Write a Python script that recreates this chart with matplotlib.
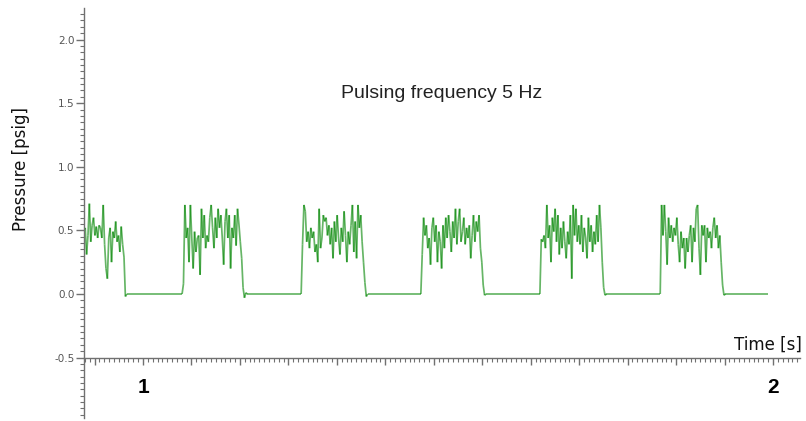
import numpy as np
import matplotlib
matplotlib.use("Agg")
import matplotlib.pyplot as plt
from matplotlib.collections import LineCollection
from matplotlib.ticker import MultipleLocator, FormatStrFormatter, NullFormatter
from matplotlib.transforms import blended_transform_factory

# pressure trace, sampled every DT seconds inside each pulse
DT = 0.0022
PULSE_START = [0.906, 1.062, 1.251, 1.441, 1.630, 1.821]
TRACE_END = 1.992

PULSE_1 = [0.49, 0.52, 0.31, 0.46, 0.71, 0.41, 0.54, 0.60, 0.46, 0.53,
           0.44, 0.54, 0.52, 0.44, 0.70, 0.39, 0.20, 0.12, 0.44, 0.52,
           0.25, 0.49, 0.44, 0.57, 0.41, 0.46, 0.33, 0.53, 0.39, 0.29,
           -0.02, 0.0]
PULSE_2 = [0.0, 0.08, 0.70, 0.44, 0.52, 0.25, 0.70, 0.44, 0.20, 0.49,
           0.33, 0.44, 0.46, 0.15, 0.67, 0.44, 0.62, 0.36, 0.46, 0.41,
           0.60, 0.70, 0.52, 0.36, 0.60, 0.44, 0.67, 0.52, 0.62, 0.44,
           0.23, 0.57, 0.67, 0.44, 0.62, 0.20, 0.52, 0.44, 0.62, 0.38,
           0.67, 0.55, 0.41, 0.28, 0.05, -0.03, 0.01, 0.0]
PULSE_3 = [0.0, 0.39, 0.70, 0.65, 0.41, 0.49, 0.36, 0.52, 0.44, 0.49,
           0.33, 0.39, 0.25, 0.67, 0.36, 0.44, 0.62, 0.57, 0.60, 0.46,
           0.54, 0.39, 0.52, 0.28, 0.57, 0.41, 0.62, 0.44, 0.31, 0.52,
           0.41, 0.65, 0.46, 0.25, 0.49, 0.39, 0.54, 0.70, 0.33, 0.57,
           0.28, 0.70, 0.52, 0.62, 0.41, 0.25, 0.09, -0.02, 0.0]
PULSE_4 = [0.0, 0.31, 0.60, 0.46, 0.54, 0.36, 0.44, 0.23, 0.52, 0.60,
           0.41, 0.54, 0.25, 0.49, 0.41, 0.20, 0.54, 0.36, 0.60, 0.44,
           0.62, 0.49, 0.33, 0.57, 0.44, 0.67, 0.39, 0.57, 0.67, 0.41,
           0.49, 0.60, 0.39, 0.52, 0.44, 0.54, 0.28, 0.46, 0.62, 0.41,
           0.57, 0.49, 0.62, 0.36, 0.25, 0.07, -0.01, 0.0]
PULSE_5 = [0.0, 0.43, 0.41, 0.46, 0.36, 0.70, 0.44, 0.54, 0.25, 0.60,
           0.49, 0.67, 0.41, 0.62, 0.31, 0.52, 0.36, 0.57, 0.41, 0.28,
           0.49, 0.39, 0.62, 0.12, 0.70, 0.46, 0.67, 0.41, 0.54, 0.39,
           0.62, 0.33, 0.52, 0.44, 0.28, 0.60, 0.41, 0.54, 0.33, 0.49,
           0.39, 0.62, 0.41, 0.70, 0.52, 0.25, 0.05, -0.01, 0.0]
PULSE_6 = [0.0, 0.70, 0.46, 0.70, 0.49, 0.23, 0.60, 0.44, 0.54, 0.41,
           0.52, 0.46, 0.60, 0.39, 0.25, 0.49, 0.36, 0.44, 0.20, 0.44,
           0.33, 0.46, 0.54, 0.25, 0.52, 0.41, 0.67, 0.70, 0.36, 0.15,
           0.54, 0.46, 0.54, 0.25, 0.52, 0.44, 0.49, 0.36, 0.52, 0.60,
           0.44, 0.54, 0.36, 0.46, 0.25, 0.07, -0.01, 0.0]
PULSES = [PULSE_1, PULSE_2, PULSE_3, PULSE_4, PULSE_5, PULSE_6]

X_LABELS = [1, 2]

t_parts, p_parts = [], []
for t0, vals in zip(PULSE_START, PULSES):
    t_parts.append(t0 + DT * np.arange(len(vals)))
    p_parts.append(np.asarray(vals, dtype=float))
t = np.concatenate(t_parts + [[TRACE_END]])
p = np.concatenate(p_parts + [[0.0]])

fig = plt.figure(figsize=(8.06, 4.21), dpi=100)
ax = fig.add_axes([84 / 806, 3 / 421, 716 / 806, 410 / 421])

# draw segment by segment so overlapping strokes darken like a scope trace
pts = np.column_stack([t, p])
segs = np.stack([pts[:-1], pts[1:]], axis=1)
ax.add_collection(LineCollection(segs, colors=[(0.0, 0.52, 0.0, 0.6)],
                                 linewidths=1.25))

ax.set_xlim(0.9063, 2.0429)
ax.set_ylim(-0.975, 2.248)

for s in ("top", "right"):
    ax.spines[s].set_visible(False)
ax.spines["bottom"].set_position(("data", -0.5))
for s in ("left", "bottom"):
    ax.spines[s].set_color("#707070")
    ax.spines[s].set_linewidth(1.0)

ax.yaxis.set_major_locator(MultipleLocator(0.5))
ax.yaxis.set_minor_locator(MultipleLocator(0.05))
ax.yaxis.set_major_formatter(FormatStrFormatter("%.1f"))
ax.xaxis.set_major_locator(MultipleLocator(1 / 13))
ax.xaxis.set_minor_locator(MultipleLocator(1 / 130))
ax.xaxis.set_major_formatter(NullFormatter())

ax.tick_params(axis="y", which="major", length=6, width=1, color="#707070",
               labelsize=7.5, labelcolor="#555555", pad=1)
ax.tick_params(axis="y", which="minor", length=3, width=0.8, color="#707070")
ax.tick_params(axis="x", which="major", length=5, width=1, color="#707070")
ax.tick_params(axis="x", which="minor", length=3, width=0.8, color="#707070")

trans = blended_transform_factory(ax.transData, ax.transAxes)
for xv in X_LABELS:
    ax.text(xv, 0.0756, str(xv), transform=trans, ha="center", va="center",
            fontsize=15, fontweight="bold", family="Liberation Sans",
            color="black")

fig.text(442 / 806, 1 - 94 / 421, "Pulsing frequency 5 Hz", ha="center",
         va="center", fontsize=14, family="Liberation Sans", color="#222222")
fig.text(802 / 806, 1 - 345 / 421, "Time [s]", ha="right", va="center",
         fontsize=12, color="#111111")
fig.text(21 / 806, 1 - 169 / 421, "Pressure [psig]", rotation=90,
         ha="center", va="center", fontsize=12, color="#111111")

fig.savefig("out.png", dpi=100, facecolor="white")
